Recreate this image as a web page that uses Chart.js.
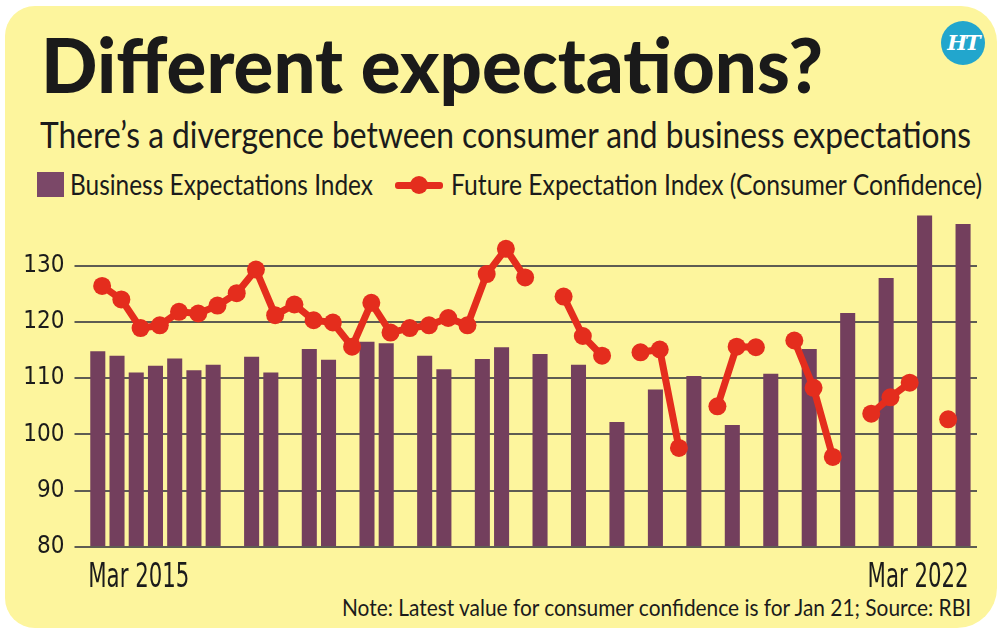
<!DOCTYPE html>
<html>
<head>
<meta charset="utf-8">
<script src="https://cdn.jsdelivr.net/npm/chart.js@4"></script>
<style>
  html, body { margin: 0; padding: 0; background: #fff; }
  body { width: 1000px; height: 637px; position: relative; overflow: hidden; font-family: Lato, sans-serif; color: #1b1b1b; }
  .card { position: absolute; left: 5px; top: 6px; width: 992px; height: 622px; background: #fdf59d; border-radius: 30px 36px 40px 30px; }
  .fit { position: absolute; white-space: nowrap; line-height: 1; transform-origin: 0 0; display: inline-block; }
  #title { left: 41px; top: 26px; font-size: 76px; font-weight: 900; color: #1a1a1a; }
  #sub { left: 40px; top: 116px; font-size: 36px; font-weight: 400; }
  .leg { top: 170px; font-size: 28px; font-weight: 400; }
  #note { left: 342px; top: 595px; font-size: 24px; font-weight: 400; }
  .sw { position: absolute; left: 37px; top: 172px; width: 27px; height: 25px; background: #7b4868; }
  .lline { position: absolute; left: 395px; top: 182px; width: 48px; height: 7px; background: #e42d1d; border-radius: 3px; }
  .ldot { position: absolute; left: 410px; top: 176px; width: 18px; height: 18px; border-radius: 50%; background: #e42d1d; }
  .logo { position: absolute; left: 941px; top: 21px; width: 44px; height: 44px; border-radius: 50%; background: #22a6cd;
          color: #fff; font: italic bold 21px "DejaVu Serif", serif; text-align: center; line-height: 44px; letter-spacing: -2px; }
  #wrap { position: absolute; left: 0; top: 185px; width: 1000px; height: 424px; }
</style>
</head>
<body>
<div class="card"></div>
<div class="fit" id="title" data-w="782">Different expectations?</div>
<div class="logo">HT</div>
<div class="fit" id="sub" data-w="931">There’s a divergence between consumer and business expectations</div>
<div class="sw"></div>
<div class="fit leg" style="left:70px" data-w="303">Business Expectations Index</div>
<div class="lline"></div><div class="ldot"></div>
<div class="fit leg" style="left:451px" data-w="531">Future Expectation Index (Consumer Confidence)</div>
<div class="fit" id="note" data-w="629">Note: Latest value for consumer confidence is for Jan 21; Source: RBI</div>
<div id="wrap"><canvas id="chart"></canvas></div>

<script>
// survey periods (business index is quarterly, consumer survey more frequent later on)
const periods = [
  'Mar 2015', 'Jun 2015', 'Sep 2015', 'Dec 2015', 'Mar 2016', 'Jun 2016', 'Sep 2016', 'Nov 2016',
  'Dec 2016', 'Mar 2017', 'May 2017', 'Jun 2017', 'Sep 2017', 'Nov 2017', 'Dec 2017', 'Mar 2018',
  'May 2018', 'Jun 2018', 'Sep 2018', 'Nov 2018', 'Dec 2018', 'Mar 2019', 'May 2019', 'Jun 2019',
  'Jul 2019', 'Sep 2019', 'Nov 2019', 'Dec 2019', 'Jan 2020', 'Mar 2020', 'May 2020', 'Jun 2020',
  'Jul 2020', 'Sep 2020', 'Nov 2020', 'Dec 2020', 'Jan 2021', 'Mar 2021', 'May 2021', 'Jun 2021',
  'Jul 2021', 'Sep 2021', 'Nov 2021', 'Dec 2021', 'Jan 2022', 'Mar 2022'
]

const businessIdx = [
  114.8, 114.0, 111.0, 112.2, 113.5, 111.4, 112.4, null,
  113.8, 111.0, null, 115.2, 113.3, null, 116.5, 116.2,
  null, 114.0, 111.6, null, 113.4, 115.5, null, 114.3,
  null, 112.4, null, 102.2, null, 108.0, null, 110.4,
  null, 101.7, null, 110.8, null, 115.2, null, 121.6,
  null, 127.8, null, 138.9, null, 137.4
]

const consumerIdx = [
  126.4, 124.0, 118.9, 119.4, 121.8, 121.5, 122.9, 125.1,
  129.3, 121.2, 123.1, 120.3, 119.9, 115.6, 123.4, 118.1,
  118.9, 119.4, 120.7, 119.4, 128.5, 133.0, 127.9, null,
  124.5, 117.5, 114.0, null, 114.6, 115.1, 97.6, null,
  105.0, 115.6, 115.5, null, 116.7, 108.3, 96.0, null,
  103.7, 106.6, 109.2, null, 102.7, null
]

const yTickValues = [80, 90, 100, 110, 120, 130]
const yMin = 80, yMax = 140

const barColor = '#733f5d'
const red = '#e42d1d'
const narrow = '"Liberation Sans Narrow", "DejaVu Sans Condensed", sans-serif'

// squeeze html texts to the condensed widths of the original
function fitTexts() {
  document.querySelectorAll('.fit').forEach(el => {
    el.style.transform = 'none'
    const w = el.getBoundingClientRect().width
    el.style.transform = 'scaleX(' + (+el.dataset.w / w) + ')'
  })
}
fitTexts()
document.fonts.ready.then(fitTexts)

// first / last period labels, aligned to the outer bars
const endLabels = {
  id: 'endLabels',
  afterDraw(chart) {
    const ctx = chart.ctx
    const bars = chart.getDatasetMeta(1).data
    const first = bars[0], last = bars[bars.length - 1]
    const y = chart.chartArea.bottom + 40
    const draw = (text, x, align) => {
      ctx.save()
      ctx.font = '33px ' + narrow
      ctx.fillStyle = '#1b1b1b'
      ctx.textAlign = align
      ctx.textBaseline = 'alphabetic'
      const sx = 101 / ctx.measureText(text).width
      ctx.translate(x, y)
      ctx.scale(sx, 1)
      ctx.fillText(text, 0, 0)
      ctx.restore()
    }
    draw(periods[0], first.x - first.width / 2 - 2, 'left')
    draw(periods[periods.length - 1], last.x + last.width / 2 - 2, 'right')
  }
}

const chart = new Chart(document.getElementById('chart'), {
  type: 'bar',
  data: {
    labels: periods,
    datasets: [
      {
        type: 'line',
        label: 'Future Expectation Index (Consumer Confidence)',
        data: consumerIdx,
        borderColor: red,
        backgroundColor: red,
        borderWidth: 7,
        pointRadius: 9,
        pointBorderWidth: 0,
        pointBackgroundColor: red,
        spanGaps: false,
        tension: 0,
        order: 0
      },
      {
        label: 'Business Expectations Index',
        data: businessIdx,
        backgroundColor: barColor,
        base: yMin,
        categoryPercentage: 0.9,
        barPercentage: 1.74,
        clip: false,
        order: 1
      },
      {
        // empty partner series so the bars sit a little left of the survey dots
        label: '',
        data: periods.map(() => null),
        categoryPercentage: 0.9,
        barPercentage: 1.74,
        order: 2
      }
    ]
  },
  options: {
    responsive: true,
    maintainAspectRatio: false,
    animation: false,
    layout: { padding: { left: 0, right: 23, top: 0, bottom: 54 } },
    plugins: { legend: { display: false }, tooltip: { enabled: false } },
    scales: {
      x: {
        offset: true,
        grid: { display: false },
        border: { display: false },
        ticks: { display: false }
      },
      y: {
        min: yMin,
        max: yMax,
        afterBuildTicks: s => { s.ticks = yTickValues.map(v => ({ value: v })) },
        afterFit: s => { s.width = 92.5 },
        border: { display: false },
        grid: { color: '#5e5c53', lineWidth: 2, tickLength: 18 },
        ticks: { padding: 10, color: '#1b1b1b', font: { family: narrow, size: 24 } }
      }
    }
  },
  plugins: [endLabels]
})
</script>
</body>
</html>
